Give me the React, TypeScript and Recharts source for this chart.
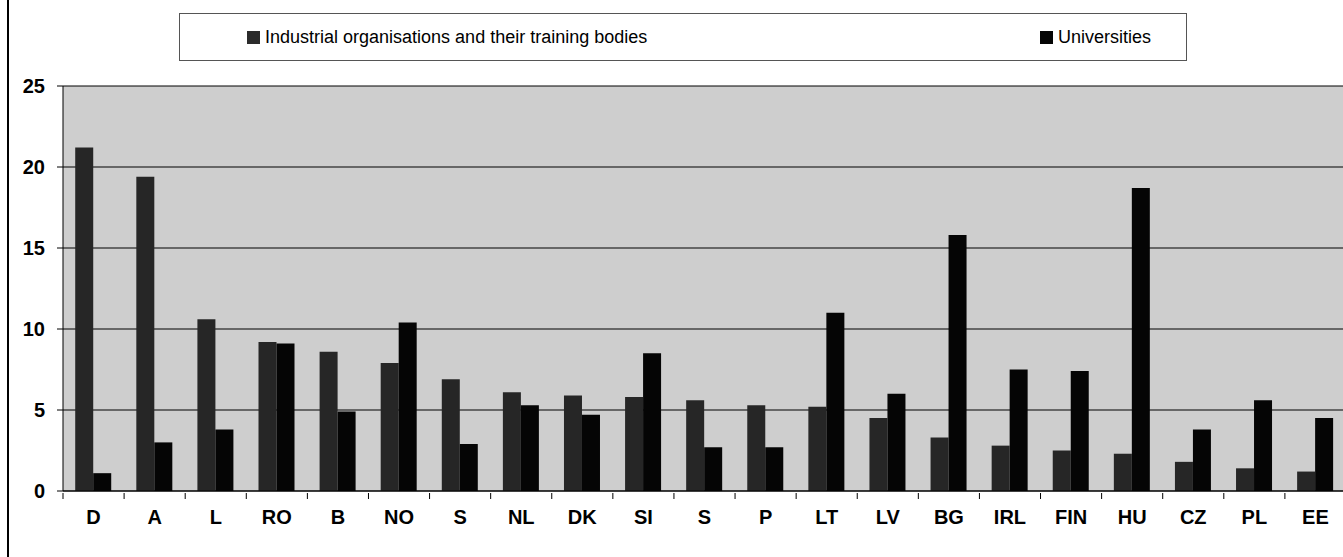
import { BarChart, Bar, XAxis, YAxis, CartesianGrid, Legend } from 'recharts';

const countries = ['D', 'A', 'L', 'RO', 'B', 'NO', 'S', 'NL', 'DK', 'SI', 'S', 'P', 'LT', 'LV', 'BG', 'IRL', 'FIN', 'HU', 'CZ', 'PL', 'EE'];
const industrial = [21.2, 19.4, 10.6, 9.2, 8.6, 7.9, 6.9, 6.1, 5.9, 5.8, 5.6, 5.3, 5.2, 4.5, 3.3, 2.8, 2.5, 2.3, 1.8, 1.4, 1.2];
const universities = [1.1, 3.0, 3.8, 9.1, 4.9, 10.4, 2.9, 5.3, 4.7, 8.5, 2.7, 2.7, 11.0, 6.0, 15.8, 7.5, 7.4, 18.7, 3.8, 5.6, 4.5];
const yTicks = [0, 5, 10, 15, 20, 25];

const seriesNames = ['Industrial organisations and their training bodies', 'Universities'];

const data = countries.map((c, i) => ({ country: c, industrial: industrial[i], universities: universities[i] }));

const W = 1350;
const H = 557;
// the top legend adds its own height (48) to the top offset
const M = { top: 38, right: 4, left: 0, bottom: 0 };
const Y_W = 63;
const X_H = 66;
const step = (W - M.left - M.right - Y_W) / countries.length;

const font = 'Arial, "Liberation Sans", sans-serif';

function CountryTick(props: any) {
  const { x, y, payload } = props;
  const left = x - step / 2;
  return (
    <g>
      <line x1={left} y1={y - 6} x2={left} y2={y} stroke="#000" strokeWidth={1} />
      <text x={x} y={y + 11} dy="0.71em" textAnchor="middle" fontFamily={font} fontSize={20} fontWeight="bold" fill="#000">
        {payload.value}
      </text>
    </g>
  );
}

function LegendBox() {
  return (
    <div
      style={{
        width: 1008,
        height: 48,
        border: '1px solid #555',
        boxSizing: 'border-box',
        fontFamily: font,
        fontSize: 18,
        color: '#000',
        position: 'relative',
      }}
    >
      <div style={{ position: 'absolute', left: 67, top: 13, display: 'flex', alignItems: 'center' }}>
        <span style={{ width: 13, height: 13, background: '#2b2b2b', marginRight: 5 }} />
        {seriesNames[0]}
      </div>
      <div style={{ position: 'absolute', left: 860, top: 13, display: 'flex', alignItems: 'center' }}>
        <span style={{ width: 13, height: 13, background: '#050505', marginRight: 5 }} />
        {seriesNames[1]}
      </div>
    </div>
  );
}

export default function App() {
  return (
    <div style={{ position: 'absolute', left: 0, top: 0, width: 1343, height: 557, overflow: 'hidden', background: '#fff' }}>
      <div style={{ position: 'absolute', left: 7, top: 0, width: 2, height: 557, background: '#000' }} />
      <BarChart width={W} height={H} data={data} margin={M} barGap={0} barCategoryGap="20%">
        <CartesianGrid vertical={false} stroke="#000" strokeWidth={1} fill="#cecece" fillOpacity={1} />
        <XAxis
          dataKey="country"
          height={X_H}
          axisLine={{ stroke: '#000' }}
          tickLine={false}
          interval={0}
          tick={<CountryTick />}
        />
        <YAxis
          width={Y_W}
          domain={[0, 25]}
          ticks={yTicks}
          tickSize={6}
          tickMargin={12}
          axisLine={{ stroke: '#000' }}
          tickLine={{ stroke: '#000' }}
          tick={{ fontFamily: font, fontSize: 20, fontWeight: 'bold', fill: '#000' }}
        />
        <Legend
          verticalAlign="top"
          content={<LegendBox />}
          wrapperStyle={{ position: 'absolute', top: 13, left: 179, width: 1008, height: 48 }}
        />
        <Bar dataKey="industrial" name={seriesNames[0]} fill="#262626" isAnimationActive={false} />
        <Bar dataKey="universities" name={seriesNames[1]} fill="#050505" isAnimationActive={false} />
      </BarChart>
    </div>
  );
}
